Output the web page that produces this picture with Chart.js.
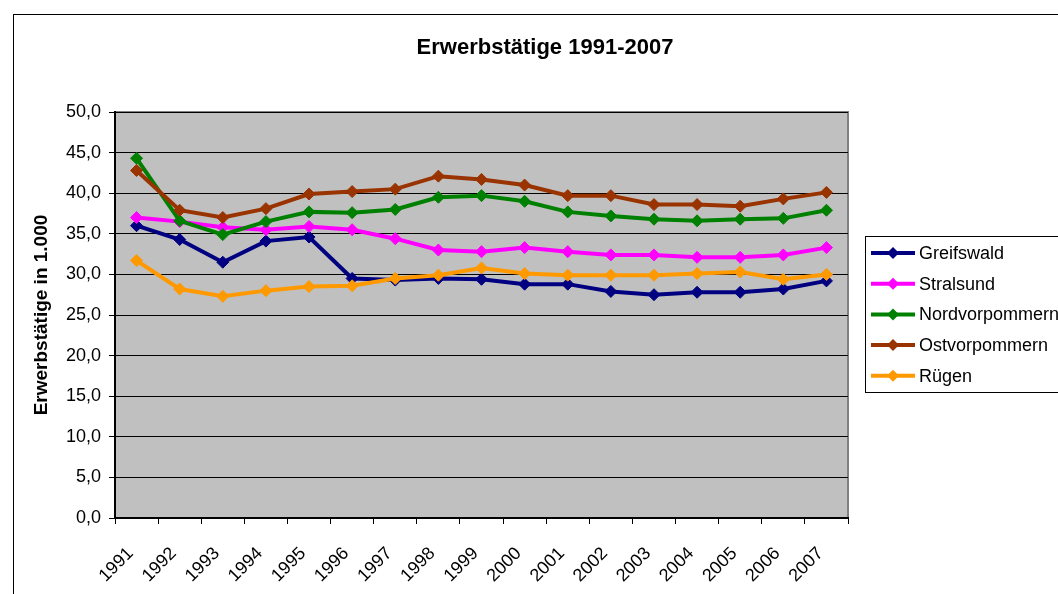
<!DOCTYPE html>
<html><head><meta charset="utf-8">
<script src="https://cdn.jsdelivr.net/npm/chart.js@4"></script>
<style>html,body{margin:0;padding:0;background:#fff;overflow:hidden}canvas{display:block}</style>
</head><body>
<canvas id="c" width="1058" height="594"></canvas>
<script>
const years = ['1991','1992','1993','1994','1995','1996','1997','1998','1999','2000','2001','2002','2003','2004','2005','2006','2007'];
const greifswald     = [36.0, 34.3, 31.5, 34.1, 34.6, 29.5, 29.3, 29.5, 29.4, 28.8, 28.8, 27.9, 27.5, 27.8, 27.8, 28.2, 29.2];
const stralsund      = [37.0, 36.5, 35.8, 35.5, 35.9, 35.5, 34.4, 33.0, 32.8, 33.3, 32.8, 32.4, 32.4, 32.1, 32.1, 32.4, 33.3];
const nordvorpommern = [44.3, 36.6, 34.9, 36.5, 37.7, 37.6, 38.0, 39.5, 39.7, 39.0, 37.7, 37.2, 36.8, 36.6, 36.8, 36.9, 37.9];
const ostvorpommern  = [42.8, 37.9, 37.0, 38.1, 39.9, 40.2, 40.5, 42.1, 41.7, 41.0, 39.7, 39.7, 38.6, 38.6, 38.4, 39.3, 40.1];
const ruegen         = [31.7, 28.2, 27.3, 28.0, 28.5, 28.6, 29.5, 29.9, 30.8, 30.1, 29.9, 29.9, 29.9, 30.1, 30.3, 29.4, 30.0];
const seriesNames  = ['Greifswald','Stralsund','Nordvorpommern','Ostvorpommern','Rügen'];
const seriesValues = [greifswald, stralsund, nordvorpommern, ostvorpommern, ruegen];
const seriesColors = ['#000080','#FF00FF','#008000','#993300','#FF9900'];
const chartTitle = 'Erwerbstätige 1991-2007';
const yTitle = 'Erwerbstätige in 1.000';

const FONT = '"Liberation Sans", Arial, sans-serif';
Chart.defaults.font.family = FONT;
Chart.defaults.color = '#000';

function diamond(ctx, x, y, r, color) {
  ctx.beginPath();
  ctx.moveTo(x, y - r); ctx.lineTo(x + r, y); ctx.lineTo(x, y + r); ctx.lineTo(x - r, y);
  ctx.closePath();
  ctx.fillStyle = color; ctx.fill();
}

const decorPlugin = {
  id: 'decor',
  beforeDraw(chart) {
    const ctx = chart.ctx, a = chart.chartArea;
    ctx.save();
    ctx.fillStyle = '#fff'; ctx.fillRect(0, 0, chart.width, chart.height);
    ctx.strokeStyle = '#000'; ctx.lineWidth = 1;
    ctx.strokeRect(13.5, 14.5, 1200, 800);
    ctx.fillStyle = '#C0C0C0';
    ctx.fillRect(a.left, a.top, a.right - a.left, a.bottom - a.top);
    ctx.strokeStyle = '#808080'; ctx.lineWidth = 2;
    ctx.strokeRect(a.left, a.top, a.right - a.left, a.bottom - a.top);
    ctx.restore();
  },
  afterDraw(chart) {
    const ctx = chart.ctx;
    ctx.save();
    ctx.fillStyle = '#000';
    ctx.font = 'bold 22px ' + FONT;
    ctx.textAlign = 'center'; ctx.textBaseline = 'middle';
    ctx.fillText(chartTitle, 545, 48);
    // legend
    ctx.strokeStyle = '#000'; ctx.lineWidth = 1;
    ctx.strokeRect(865.5, 236.5, 400, 156);
    ctx.font = '18px ' + FONT;
    ctx.textAlign = 'left';
    seriesNames.forEach((name, i) => {
      const y = 253 + i * 30.7;
      ctx.strokeStyle = seriesColors[i]; ctx.lineWidth = 4;
      ctx.beginPath(); ctx.moveTo(871, y); ctx.lineTo(915, y); ctx.stroke();
      diamond(ctx, 893, y, 6, seriesColors[i]);
      ctx.fillStyle = '#000';
      ctx.fillText(name, 919, y + 1);
    });
    ctx.restore();
  }
};

new Chart(document.getElementById('c'), {
  type: 'line',
  data: {
    labels: years,
    datasets: seriesNames.map((name, i) => ({
      label: name,
      data: seriesValues[i],
      borderColor: seriesColors[i],
      backgroundColor: seriesColors[i],
      borderWidth: 4,
      pointStyle: 'rectRot',
      pointRadius: 6,
      pointBorderWidth: 1,
      pointBackgroundColor: seriesColors[i],
      pointBorderColor: seriesColors[i],
      tension: 0,
      fill: false,
      order: seriesNames.length - i
    }))
  },
  options: {
    responsive: false,
    animation: false,
    devicePixelRatio: 1,
    layout: { padding: { left: 0, right: 210, top: 112, bottom: 0 } },
    plugins: { legend: { display: false }, title: { display: false }, tooltip: { enabled: false } },
    scales: {
      x: {
        type: 'category',
        offset: true,
        grid: { offset: true, drawOnChartArea: false, drawTicks: true, tickLength: 6, color: '#000', lineWidth: 1 },
        border: { display: true, color: '#000', width: 2 },
        ticks: { font: { size: 18 }, color: '#000', minRotation: 45, maxRotation: 45, autoSkip: false, padding: 19, labelOffset: -6 },
        afterFit(s) { s.height = 76; }
      },
      y: {
        min: 0, max: 50,
        ticks: { stepSize: 5, font: { size: 18 }, color: '#000', padding: 8,
          callback: v => v.toFixed(1).replace('.', ',') },
        grid: { color: '#000', lineWidth: 1, tickLength: 6, drawTicks: true },
        border: { display: true, color: '#000', width: 2 },
        title: { display: true, text: yTitle, font: { size: 19, weight: 'bold' }, color: '#000', padding: { top: 30, bottom: 0 } },
        afterFit(s) { s.width = 115; }
      }
    }
  },
  plugins: [decorPlugin]
});
</script>
</body></html>
